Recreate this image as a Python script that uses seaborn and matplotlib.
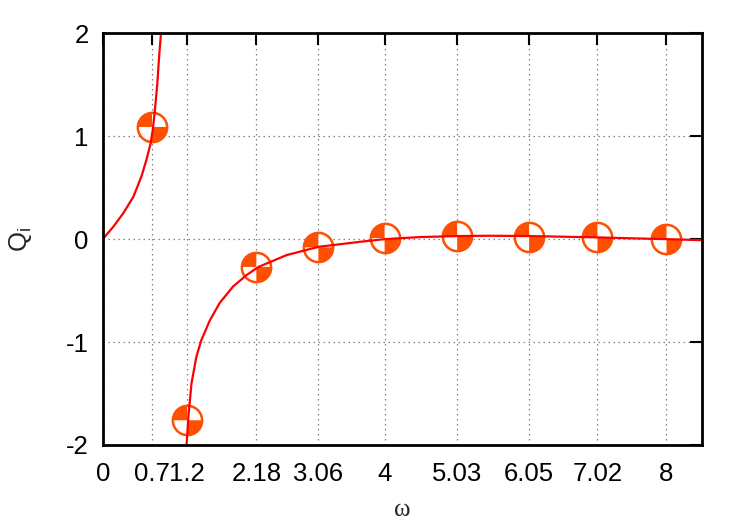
import matplotlib
matplotlib.use('Agg')
import matplotlib.pyplot as plt
from matplotlib.path import Path
import pandas as pd
import seaborn as sns


# curve: left branch up to the pole, right branch after it
left_w = [0.0, 0.15, 0.29, 0.434, 0.55, 0.62, 0.68, 0.71, 0.74, 0.775, 0.80, 0.827, 0.84]
left_q = [0.0, 0.12, 0.25, 0.41, 0.61, 0.77, 0.93, 1.06, 1.25, 1.51, 1.77, 2.0, 2.15]

right_w = [1.185, 1.19, 1.215, 1.26, 1.33, 1.40, 1.52, 1.66, 1.85, 2.04, 2.21, 2.61, 3.06, 3.65,
           4.0, 4.5, 5.03, 5.5, 6.05, 6.5, 7.02, 7.5, 8.0, 8.5]
right_q = [-2.1, -2.0, -1.73, -1.40, -1.14, -0.98, -0.79, -0.62, -0.46, -0.35, -0.27, -0.155, -0.075, -0.026,
           0.0, 0.02, 0.03, 0.033, 0.03, 0.024, 0.017, 0.008, 0.0, -0.01]

# sampled points (markers)
pts_w = [0.7, 1.2, 2.18, 3.06, 4, 5.03, 6.05, 7.02, 8]
pts_q = [1.09, -1.76, -0.27, -0.08, 0.01, 0.03, 0.02, 0.017, 0.0]

xticks = [0, 0.7, 1.2, 2.18, 3.06, 4, 5.03, 6.05, 7.02, 8]
xtick_labels = ['0', '0.7', '1.2', '2.18', '3.06', '4', '5.03', '6.05', '7.02', '8']
yticks = [-2, -1, 0, 1, 2]

line_color = '#ff0000'
mark_color = '#ff4f00'

sns.set_style('white')
plt.rcParams['font.family'] = ['Liberation Sans', 'DejaVu Sans']
plt.rcParams['mathtext.fontset'] = 'custom'
plt.rcParams['mathtext.rm'] = 'Liberation Sans'
plt.rcParams['mathtext.it'] = 'Liberation Sans:italic'

df_left = pd.DataFrame({'w': left_w, 'q': left_q})
df_right = pd.DataFrame({'w': right_w, 'q': right_q})
df_pts = pd.DataFrame({'w': pts_w, 'q': pts_q})

fig = plt.figure(figsize=(7.47, 5.25), dpi=100)
ax = fig.add_axes([0.1375, 0.1524, 0.9394 - 0.1375, 0.9366 - 0.1524])

# quartered circle marker: top-left and bottom-right quadrants filled
quarters = Path.make_compound_path(Path.wedge(90, 180), Path.wedge(270, 360))

sns.scatterplot(data=df_pts, x='w', y='q', ax=ax, s=445, marker='o',
                facecolor='white', edgecolor=mark_color, linewidth=1.8, zorder=3)
sns.scatterplot(data=df_pts, x='w', y='q', ax=ax, s=445, marker=quarters,
                color=mark_color, edgecolor='none', linewidth=0, zorder=3.1)

sns.lineplot(data=df_left, x='w', y='q', ax=ax, color=line_color, linewidth=1.6,
             sort=False, zorder=4)
sns.lineplot(data=df_right, x='w', y='q', ax=ax, color=line_color, linewidth=1.6,
             sort=False, zorder=4)

ax.set_xlim(0, 8.5)
ax.set_ylim(-2, 2)
ax.set_xticks(xticks)
ax.set_xticklabels(xtick_labels)
ax.set_yticks(yticks)
ax.set_yticklabels([str(t) for t in yticks])

ax.grid(True, color='#808080', linestyle=(0, (1.2, 2.8)), linewidth=0.9)
ax.set_axisbelow(True)
for sp in ax.spines.values():
    sp.set_linewidth(2)
    sp.set_color('black')
    sp.set_zorder(5)

ax.tick_params(direction='in', length=8.6, width=1.5, top=True, right=True,
               labelsize=18.5, pad=10, colors='black')
ax.tick_params(axis='x', pad=12.5)

ax.set_xlabel('ω', family=['Liberation Serif', 'DejaVu Serif'], fontsize=18, va='center')
ax.xaxis.set_label_coords(0.5, -0.158)
ax.set_ylabel(r'Q$_\mathrm{i}$', fontsize=18.5)
ax.yaxis.set_label_coords(-0.115, 0.5)

fig.savefig('out.png', dpi=100)
